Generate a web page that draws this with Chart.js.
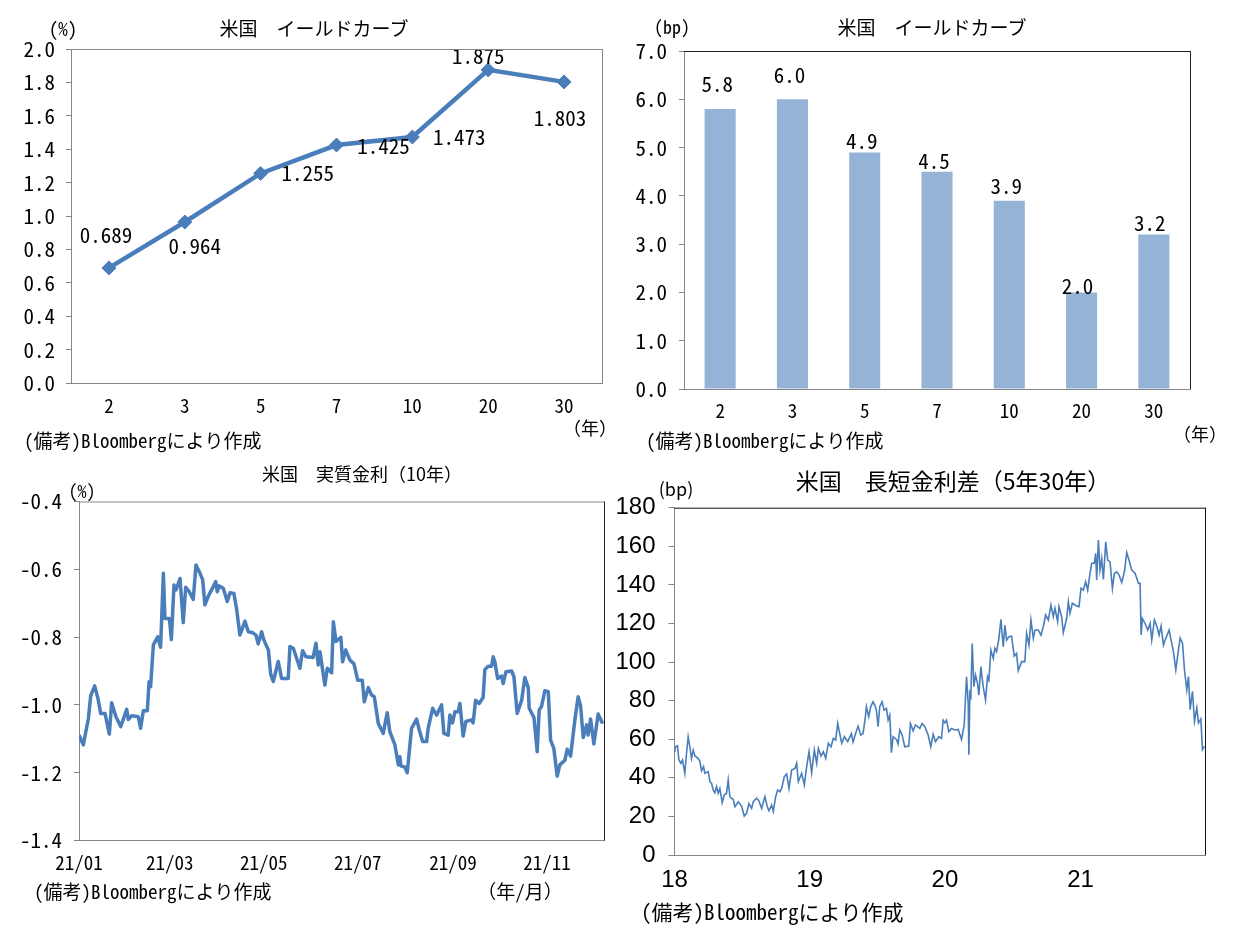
<!DOCTYPE html>
<html><head><meta charset="utf-8">
<script src="https://cdn.jsdelivr.net/npm/chart.js@4.4.1/dist/chart.umd.min.js"></script>
<style>
body{margin:0;background:#fff;width:1233px;height:926px;position:relative;overflow:hidden;font-family:'Noto Sans Mono CJK JP','Noto Sans CJK JP',sans-serif;color:#000}
.box{position:absolute}
.t{position:absolute;white-space:nowrap;transform:translate(-50%,-50%);line-height:1}
.l{position:absolute;white-space:nowrap;transform:translate(0,-50%);line-height:1}
</style></head><body>
<div class="box" style="left:0;top:0"><canvas id="c1" width="616" height="455"></canvas></div>
<div class="box" style="left:616px;top:0"><canvas id="c2" width="617" height="455"></canvas></div>
<div class="box" style="left:0;top:455px"><canvas id="c3" width="616" height="471"></canvas></div>
<div class="box" style="left:616px;top:455px"><canvas id="c4" width="617" height="471"></canvas></div>

<div class="t" style="left:63px;top:27px;font-size:19px">(%)</div>
<div class="t" style="left:314px;top:27px;font-size:19px;font-family:'Noto Sans CJK JP'">米国　イールドカーブ</div>
<div class="t" style="left:590px;top:427px;font-size:18px">（年）</div>
<div class="l" style="left:24px;top:439px;font-size:19px">(備考)Bloombergにより作成</div>

<div class="t" style="left:672px;top:26px;font-size:18px">(bp)</div>
<div class="t" style="left:932px;top:26px;font-size:19px;font-family:'Noto Sans CJK JP'">米国　イールドカーブ</div>
<div class="t" style="left:1200px;top:433px;font-size:18px">（年）</div>
<div class="l" style="left:646px;top:439px;font-size:19px">(備考)Bloombergにより作成</div>

<div class="t" style="left:82px;top:490px;font-size:18px">(%)</div>
<div class="t" style="left:362px;top:473px;font-size:18px;font-family:'Noto Sans CJK JP'">米国　実質金利（10年）</div>
<div class="l" style="left:34px;top:890px;font-size:19px">(備考)Bloombergにより作成</div>
<div class="t" style="left:520px;top:890px;font-size:19px">（年/月）</div>

<div class="t" style="left:676px;top:488px;font-size:18px;font-family:'Noto Sans CJK JP'">(bp)</div>
<div class="t" style="left:953px;top:480px;font-size:23px;font-family:'Noto Sans CJK JP'">米国　長短金利差（5年30年）</div>
<div class="l" style="left:641px;top:911px;font-size:21px">(備考)Bloombergにより作成</div>

<script>
// ---------------- data ----------------
const curveTenors = ['2','3','5','7','10','20','30'];
const curveYields = [0.689,0.964,1.255,1.425,1.473,1.875,1.803];
const curveChanges = [5.8,6.0,4.9,4.5,3.9,2.0,3.2];

const realTickDays = [0,59,120,181,243,304];
const realTickLabels = ['21/01','21/03','21/05','21/07','21/09','21/11'];
const realDays = [0,2.8,6.1,7.6,10.2,12.3,14.1,16.9,19.7,21.2,24,27.1,31,32,34.2,38.5,40,41.8,44.4,45.5,46.5,48.3,51.1,53,54.8,55.8,58.7,60,61.7,63,65.6,67.7,69.3,71.6,74.2,76,78.1,80.3,81.8,84,87.2,88.8,89.8,91.1,93.7,96.3,98.1,100.6,102.4,104.5,107.8,110,112.8,114.9,116.4,118.6,120.1,123,124.5,126.2,129.4,131.6,135.9,137,139.2,143.5,145.2,147.4,152.1,153.9,155.4,156.5,159.7,161.3,164.1,
165.2,166.9,170.1,171.2,173.2,176,178.6,181,184,185.3,187.9,190,191.8,194.4,197.6,200.2,201.9,205.2,207.4,208.4,209.1,211.7,213.2,216,219.3,221,223.2,225.8,226.8,229.7,232.3,235.5,237,239.8,240.9,242.6,244.2,246.3,247.4,249.5,251.3,255,256,257.6,259.9,262.5,263.6,265.8,268,269,270.1,271.9,274.5,275.5,277.3,281,282.5,284.6,287.5,289.6,291.8,292.4,295.5,297.6,298.9,300.4,302.6,304.8,306.3,308.4,310.6,312.3,315.6,317.1,319.3,322.1,324.2,325.8,327.5,329.7,330.7,332.3,334.4,337.2,340.1];
const realValues = [-1.089,-1.118,-1.040,-0.973,-0.944,-0.981,-1.025,-1.025,-1.086,-0.994,-1.035,-1.064,-1.013,-1.043,-1.032,-1.035,-1.069,-1.017,-1.017,-0.932,-0.946,-0.823,-0.799,-0.830,-0.612,-0.745,-0.745,-0.807,-0.646,-0.661,-0.627,-0.757,-0.653,-0.666,-0.689,-0.587,-0.607,-0.630,-0.705,-0.679,-0.651,-0.636,-0.666,-0.649,-0.656,-0.695,-0.669,-0.671,-0.718,-0.794,-0.753,-0.784,-0.787,-0.794,-0.820,-0.784,-0.809,-0.838,-0.909,-0.931,-0.872,-0.922,-0.922,-0.828,-0.833,-0.892,-0.840,-0.858,-0.860,-0.818,-0.882,-0.843,-0.941,-0.892,-0.905,
-0.755,-0.813,-0.801,-0.873,-0.838,-0.868,-0.879,-0.927,-0.927,-0.991,-0.949,-0.971,-0.976,-1.055,-1.084,-1.023,-1.079,-1.118,-1.177,-1.153,-1.180,-1.184,-1.200,-1.069,-1.042,-1.074,-1.108,-1.108,-1.069,-1.010,-1.030,-1.000,-1.084,-1.089,-1.030,-1.053,-1.020,-1.020,-0.996,-1.092,-1.049,-1.044,-1.053,-0.986,-0.996,-0.978,-0.896,-0.886,-0.886,-0.858,-0.873,-0.922,-0.915,-0.937,-0.902,-0.900,-0.917,-1.025,-0.986,-0.919,-0.949,-1.010,-1.037,-1.138,-1.015,-1.005,-0.958,-0.961,-1.104,-1.128,-1.210,-1.177,-1.163,-1.131,-1.151,-1.044,-0.976,-1.003,-1.096,-1.059,-1.089,-1.042,-1.115,-1.027,-1.055];

const spreadTickDays = [0,365,730,1096];
const spreadTickLabels = ['18','19','20','21'];
const spreadDays = [0.9,2.7,8.1,11.7,17.1,21.6,27.9,32.4,36.9,41.4,45.9,50.5,55,64,68.5,73,78.4,82,91,95.5,100,104.5,109,113.5,118,122.5,128.8,134.2,140.5,145,149.5,154,158.6,163.1,172.1,181.1,188.3,194.6,200.9,208.1,212.6,221.6,227.9,235.1,244.1,250.5,255,262.2,266.7,273,278.4,284.7,289.2,296.4,302.7,309,316.2,325.2,329.7,334.2,343.2,350.5,356.8,363.1,370.3,377.5,383.8,388.3,395.5,401.8,408.1,415.3,422.5,428.8,435.1,440.5,446.8,451.4,458.6,467.6,
477.5,482,488.3,495.5,502.7,509,515.3,518,524.3,529.7,536,540.5,545,549.5,554,560.4,565.8,572.1,576.6,581.1,585.6,590.1,599.1,603.6,608.1,614.4,621.6,632.4,636.9,644.1,650.5,662.2,668.5,675.7,684.7,691.9,698.2,704.5,713.5,720.7,725.2,729.7,734.2,740.5,747.7,756.8,765.8,774.8,782,788.3,792.8,794.6,797.3,800,803.6,808.1,812.6,818,821.6,827,833.3,839.6,845,848.6,854,860.4,864.9,869.4,875.7,881.1,887.4,891.9,896.4,902.7,909.9,917.1,923.4,927.9,937,944.1,
945.9,950.5,956.8,962.2,968.5,973,982,989.2,995.5,1001.8,1009,1016.2,1022.5,1027,1034.2,1037.8,1045,1049.5,1058.6,1063.1,1067.6,1073.9,1085.6,1091.9,1097.3,1103.6,1109.9,1115.3,1121.6,1126.1,1133.3,1136.9,1139.6,1144.1,1148.6,1153.2,1157.7,1164,1169.4,1175.7,1182,1187.4,1193.7,1200,1207.2,1214.4,1220.7,1227,1234.2,1243.2,1252.3,1256.8,1259.5,1263.1,1270.3,1277.5,1283.8,1288.3,1295.5,1301.8,1308.1,1313.5,1319.8,1324.3,1328.8,1335.1,1340.5,1346.8,1353.2,1358.6,1364.9,1371.2,1376.6,1382.9,1387.4,1391.9,1398.2,1403.6,1409.9,1414.4,1420.7,1425.2,1430.6];
const spreadValues = [53.5,56.1,56.6,49.5,47.5,49.2,42.3,52.6,61.3,56.1,50.1,54.4,51.3,50.1,48.4,43.7,45.8,42.3,43.2,38.0,37.1,33.7,32.3,35.4,32.0,34.5,27.1,31.1,32.0,38.9,30.2,29.4,28.8,25.0,27.6,25.4,20.2,21.6,26.7,24.2,27.6,29.4,28.0,24.2,30.2,25.0,22.9,25.9,22.5,30.2,33.7,32.8,34.5,40.6,42.0,34.5,44.0,44.9,47.5,38.0,42.3,36.3,45.8,53.5,42.7,54.4,47.5,55.3,51.3,53.5,50.1,57.9,56.1,60.5,59.6,68.2,62.2,57.9,61.3,58.8,
62.9,58.6,62.6,66.8,62.2,63.0,71.7,76.9,71.7,76.9,79.4,77.7,75.1,66.5,76.9,79.4,75.1,76.0,69.9,72.5,53.0,61.3,59.9,57.5,64.8,62.2,56.1,56.5,68.2,64.4,67.4,65.6,68.2,66.5,62.2,56.1,62.7,58.7,61.3,60.4,69.9,68.5,69.9,63.9,65.6,64.8,65.1,59.9,67.4,92.4,78.6,51.9,83.8,82.2,109.6,87.2,93.3,89.0,82.9,97.6,87.2,80.3,92.4,90.7,106.2,101.9,107.1,105.4,112.2,122.1,107.9,119.1,111.4,113.1,113.4,103.1,104.5,95.5,100.2,100.2,
101.0,114.9,108.8,121.8,112.3,116.6,116.6,114.0,118.3,124.4,121.8,129.5,123.5,127.8,120.9,128.7,123.5,115.2,122.7,131.3,125.3,130.5,129.1,128.7,138.2,137.3,141.6,137.3,146.0,151.2,151.2,156.4,142.5,163.2,147.7,153.7,142.8,162.3,152.8,151.9,138.2,146.0,146.8,145.1,141.2,146.8,156.7,152.8,147.7,146.0,140.8,140.8,114.0,122.6,120.0,116.6,120.0,111.4,121.8,118.7,114.0,118.7,108.8,111.4,113.5,116.6,111.4,105.4,96.0,103.8,112.4,109.8,96.0,85.6,92.5,75.3,84.8,69.3,76.2,68.4,70.5,54.6,56.3];

// ---------------- styling helpers ----------------
const MONO = "'Noto Sans Mono CJK JP','Noto Sans CJK JP',sans-serif";
const NARROW = "'Liberation Sans Narrow','Liberation Sans',sans-serif";
const BLUE = '#4A7EBB';
const AXIS = '#868686';
Chart.defaults.font.family = MONO;
Chart.defaults.color = '#000';
Chart.defaults.animation = false;

function frame(topColor, rightColor){
  return {id:'frame', afterDraw(chart){
    const a=chart.chartArea, c=chart.ctx; c.save(); c.lineWidth=1;
    c.strokeStyle=topColor; c.beginPath(); c.moveTo(a.left,a.top+0.5); c.lineTo(a.right+0.5,a.top+0.5); c.stroke();
    c.strokeStyle=rightColor; c.beginPath(); c.moveTo(a.right+0.5,a.top); c.lineTo(a.right+0.5,a.bottom); c.stroke();
    c.restore();
  }};
}
function valueLabels(dx, dy, decimals, size){
  return {id:'valueLabels', afterDatasetsDraw(chart){
    const c=chart.ctx, meta=chart.getDatasetMeta(0), d=chart.data.datasets[0].data;
    c.save(); c.font=size+'px '+MONO; c.fillStyle='#000'; c.textAlign='center'; c.textBaseline='middle';
    meta.data.forEach((el,i)=>{ c.fillText(d[i].toFixed(decimals), el.x+dx[i], el.y+dy[i]); });
    c.restore();
  }};
}
function fixW(w){ return s=>{ s.width=w; }; }
function fixH(h){ return s=>{ s.height=h; }; }

// ---------------- chart 1: yield curve line ----------------
new Chart(document.getElementById('c1'), {
  type:'line',
  data:{labels:curveTenors, datasets:[{data:curveYields, borderColor:BLUE, borderWidth:4.5, backgroundColor:BLUE,
    pointStyle:'rectRot', pointRadius:7, pointBorderWidth:1, pointBorderColor:BLUE, tension:0}]},
  options:{responsive:false, layout:{padding:{top:49,right:14,bottom:32,left:0}},
    plugins:{legend:{display:false}, tooltip:{enabled:false}},
    scales:{
      x:{offset:true, afterFit:fixH(40), grid:{display:false}, border:{color:AXIS,width:1},
         ticks:{font:{size:19}, padding:3, maxRotation:0}},
      y:{min:0,max:2, afterFit:fixW(71), grid:{drawOnChartArea:false, tickLength:5, color:AXIS}, border:{color:AXIS,width:1},
         ticks:{stepSize:0.2, font:{size:21}, padding:11, callback:v=>v.toFixed(1)}}
    }},
  plugins:[frame(AXIS,AXIS), valueLabels([-3,10,47,47,47,-10,-4],[-33,24,0,1,0,-14,36],3,21)]
});

// ---------------- chart 2: change bars ----------------
new Chart(document.getElementById('c2'), {
  type:'bar',
  data:{labels:curveTenors, datasets:[{data:curveChanges, backgroundColor:'#95B3D7', borderWidth:0,
    categoryPercentage:1, barPercentage:0.43}]},
  options:{responsive:false, layout:{padding:{top:51,right:43,bottom:26,left:0}},
    plugins:{legend:{display:false}, tooltip:{enabled:false}},
    scales:{
      x:{afterFit:fixH(40), grid:{display:false}, border:{color:AXIS,width:1},
         ticks:{font:{size:19}, padding:2, maxRotation:0}},
      y:{min:0,max:7, afterFit:fixW(68), grid:{drawOnChartArea:false, tickLength:5, color:AXIS}, border:{color:AXIS,width:1},
         ticks:{stepSize:1, font:{size:21}, padding:12, callback:v=>v.toFixed(1)}}
    }},
  plugins:[frame('#222','#222'), valueLabels([-3,-3,-3,-3,-3,-4,-4],[-25,-24,-11,-11,-15,-6,-11],1,21)]
});

// ---------------- chart 3: real rate ----------------
new Chart(document.getElementById('c3'), {
  type:'line',
  data:{datasets:[{data:realDays.map((d,i)=>({x:d,y:realValues[i]})), borderColor:BLUE, borderWidth:3.5,
    pointRadius:0, tension:0, borderJoinStyle:'round'}]},
  options:{responsive:false, layout:{padding:{top:46.5,right:12,bottom:45.5,left:0}},
    plugins:{legend:{display:false}, tooltip:{enabled:false}},
    scales:{
      x:{type:'linear', min:0, max:341, afterFit:fixH(40), grid:{display:false}, border:{color:AXIS,width:1},
         afterBuildTicks:s=>{ s.ticks = realTickDays.map(v=>({value:v})); },
         ticks:{font:{size:19}, padding:3, maxRotation:0, autoSkip:false, callback:(v,i)=>realTickLabels[i]}},
      y:{min:-1.4,max:-0.4, afterFit:fixW(79), grid:{drawOnChartArea:false, tickLength:5, color:AXIS}, border:{color:AXIS,width:1},
         ticks:{stepSize:0.2, font:{size:21}, padding:12, callback:v=>v.toFixed(1)}}
    }},
  plugins:[frame(AXIS,'#222')]
});

// ---------------- chart 4: 5y-30y spread ----------------
new Chart(document.getElementById('c4'), {
  type:'line',
  data:{datasets:[{data:spreadDays.map((d,i)=>({x:d,y:spreadValues[i]})), borderColor:BLUE, borderWidth:1.6,
    pointRadius:0, tension:0}]},
  options:{responsive:false, layout:{padding:{top:52.7,right:28,bottom:31,left:0}},
    plugins:{legend:{display:false}, tooltip:{enabled:false}},
    scales:{
      x:{type:'linear', min:0, max:1432, afterFit:fixH(40), grid:{display:false}, border:{color:AXIS,width:1},
         afterBuildTicks:s=>{ s.ticks = spreadTickDays.map(v=>({value:v})); },
         ticks:{font:{size:24, family:NARROW}, padding:3, maxRotation:0, autoSkip:false, callback:(v,i)=>spreadTickLabels[i]}},
      y:{min:0,max:180, afterFit:fixW(58.5), grid:{drawOnChartArea:false, tickLength:6, color:AXIS}, border:{color:AXIS,width:1},
         ticks:{stepSize:20, font:{size:24, family:NARROW}, padding:13}}
    }},
  plugins:[frame('#111','#111')]
});
</script>
</body></html>
